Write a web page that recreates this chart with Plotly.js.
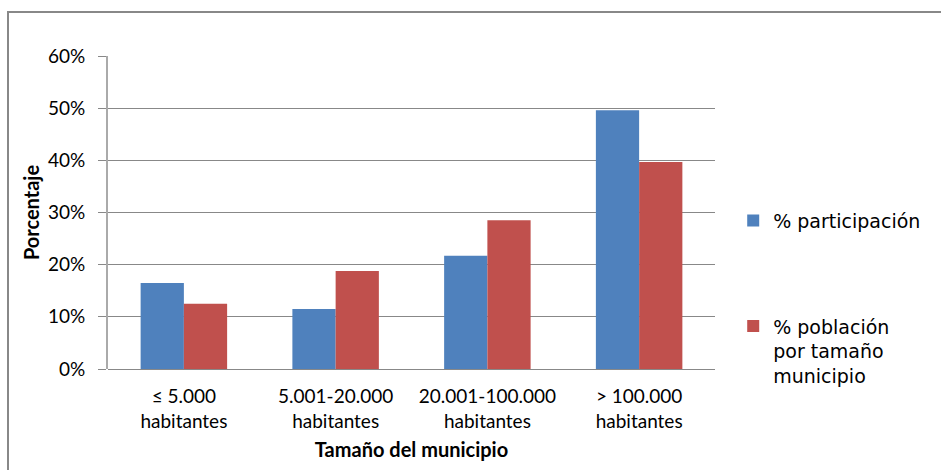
<!DOCTYPE html>
<html>
<head>
<meta charset="utf-8">
<script src="https://cdn.plot.ly/plotly-3.0.1.min.js"></script>
<style>html,body{margin:0;padding:0;background:#fff;}#chart{width:941px;height:470px;}</style>
</head>
<body>
<div id="chart"></div>
<script>
const categories = ["≤ 5.000<br>habitantes", "5.001-20.000<br>habitantes", "20.001-100.000<br>habitantes", "> 100.000<br>habitantes"];
const participacion = [0.165, 0.115, 0.217, 0.496];
const poblacion = [0.125, 0.188, 0.285, 0.397];
const seriesNames = ["% participación", "% población<br>por tamaño<br>municipio"];
const yTicks = [0, 0.1, 0.2, 0.3, 0.4, 0.5, 0.6];
const yTickLabels = ["0%", "10%", "20%", "30%", "40%", "50%", "60%"];

const mainFont = "Lato, 'Open Sans', sans-serif";

const traces = [
  {type: "bar", x: categories, y: participacion, name: seriesNames[0], legendgroup: "a",
   marker: {color: "#4F81BD"}, hoverinfo: "skip"},
  {type: "bar", x: categories, y: poblacion, name: seriesNames[1], legendgroup: "b",
   marker: {color: "#C0504D"}, hoverinfo: "skip"}
];

const layout = {
  width: 941, height: 470,
  margin: {l: 108, r: 226, t: 56, b: 101},
  paper_bgcolor: "#fff", plot_bgcolor: "#fff",
  barmode: "group", bargap: 0.43, bargroupgap: 0,
  showlegend: true,
  legend: {x: 1.03, xanchor: "left", y: 0.535, yanchor: "top",
           font: {family: "'DejaVu Sans', Verdana, sans-serif", size: 19, color: "#000"},
           tracegroupgap: 78, valign: "top", itemsizing: "constant"},
  xaxis: {type: "category", showgrid: false, showline: false, ticks: "",
          ticklabelstandoff: 14,
          tickfont: {family: mainFont, size: 19, color: "#000"},
          title: {text: "<b>Tamaño del municipio</b>", font: {family: mainFont, size: 20, color: "#000"}, standoff: 12}},
  yaxis: {range: [0, 0.6], tickvals: yTicks, ticktext: yTickLabels,
          showgrid: true, gridcolor: "#888", gridwidth: 1,
          showline: true, linecolor: "#aaa", linewidth: 2,
          ticks: "outside", ticklen: 8, tickcolor: "#888",
          ticklabelstandoff: 9,
          zeroline: true, zerolinecolor: "#888", zerolinewidth: 1,
          tickfont: {family: mainFont, size: 19, color: "#000"},
          title: {text: "<b>Porcentaje</b>", font: {family: mainFont, size: 20, color: "#000"}, standoff: 3}},
  shapes: [{type: "rect", xref: "paper", yref: "paper",
            x0: (8 - 108) / 607, x1: (950 - 108) / 607,
            y0: (369 - 480) / 313, y1: (369 - 12) / 313,
            line: {color: "#888", width: 2}, fillcolor: "rgba(0,0,0,0)", layer: "below"}]
};

Plotly.newPlot("chart", traces, layout, {staticPlot: true, displayModeBar: false});
</script>
</body>
</html>
